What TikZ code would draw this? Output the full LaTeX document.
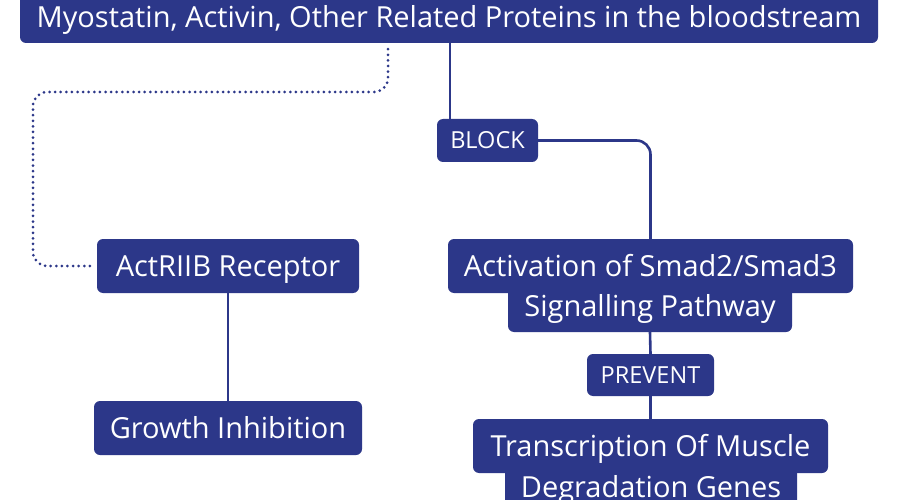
\documentclass[tikz,border=0pt]{standalone}
\usepackage{fontspec}
\setmainfont{Open Sans}
\usetikzlibrary{calc}
\definecolor{navy}{RGB}{44,55,137}
\begin{document}
\begin{tikzpicture}[x=1pt,y=-1pt,
  box/.style={fill=navy,text=white,rounded corners=6pt,inner sep=0pt,
     font=\fontsize{29}{32}\selectfont,text height=20.7pt,text depth=0pt,anchor=center},
  tag/.style={box,font=\fontsize{23.5}{26}\selectfont,text height=16.8pt},
  link/.style={draw=navy,line width=2.6pt},
  dots/.style={draw=navy,line width=3pt,line cap=round,dash pattern=on 0pt off 5.6pt,rounded corners=14pt}]
\useasboundingbox (0,0) rectangle (900,500);
\fill[white] (0,0) rectangle (900,500);
\node[box,minimum width=858pt,minimum height=70pt] (top) at (449,8) {};
\node[font=\fontsize{29}{32}\selectfont,text=white,text height=20.7pt,text depth=0pt,inner sep=0pt] (toptext) at (449,17) {Myostatin, Activin, Other Related Proteins in the bloodstream};
\node[tag,minimum width=101pt,minimum height=43pt] (blk) at (487.5,140.5) {BLOCK};
\node[box,minimum width=262pt,minimum height=54pt] (act) at (228,266) {ActRIIB Receptor};
\node[box,minimum width=268pt,minimum height=54pt] (gro) at (228,428) {Growth Inhibition};
\node[box,minimum width=405pt,minimum height=54pt] (sm1) at (650.5,266) {Activation of Smad2/Smad3};
\node[box,minimum width=284pt,minimum height=52pt] (sm2) at (650,306) {Signalling Pathway};
\node[tag,minimum width=127pt,minimum height=42pt] (prev) at (650.5,375) {PREVENT};
\node[box,minimum width=355pt,minimum height=54pt] (tr1) at (650.5,446) {Transcription Of Muscle};
\node[box,minimum width=292pt,minimum height=40pt] (tr2) at (651,487) {Degradation Genes};
\coordinate (c1) at (450,0);
\coordinate (c2) at (388,0);
\coordinate (c3) at (33,92);
\draw[link] (c1 |- top.south) -- (c1 |- blk.north);
\draw[link,rounded corners=14pt] (blk.east) -| (sm1.north);
\draw[link] (sm2.south) -- (prev.north);
\draw[link] (prev.south) -- (tr1.north);
\draw[link] (act.south) -- (gro.north);
\draw[dots] ($(c2 |- top.south)+(0,6)$) |- (c3) |- ($(act.west)+(-4,0)$);
\end{tikzpicture}
\end{document}
